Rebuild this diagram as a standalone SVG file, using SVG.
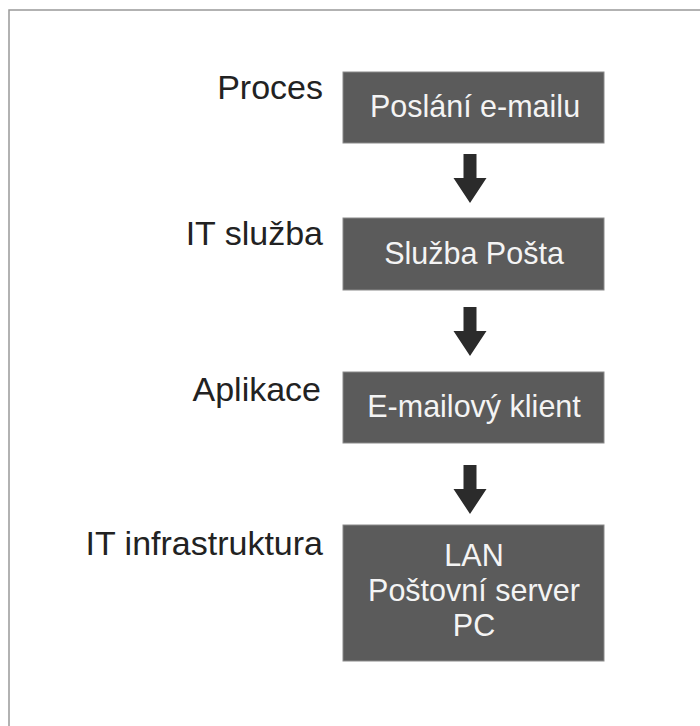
<svg xmlns="http://www.w3.org/2000/svg" width="700" height="726" viewBox="0 0 700 726">
  <style>
    .frame { fill: none; stroke: #999999; stroke-width: 1.5; }
    .box { fill: #5b5b5b; stroke: #8a8a8a; stroke-width: 1; }
    .boxtext { font-family: "Liberation Sans", Arial, sans-serif; font-size: 30.5px; fill: #f4f4f4; text-anchor: middle; }
    .label { font-family: "Liberation Sans", Arial, sans-serif; font-size: 34px; fill: #222222; text-anchor: end; }
    .arrow { fill: #2b2b2b; }
  </style>
  <defs>
    <!-- down arrow: shaft then triangular head, tip at y=49 -->
    <path id="downArrow" d="M -6.5 0 H 6.5 V 24 H 16.5 L 0 49 L -16.5 24 H -6.5 Z"/>
  </defs>
  <rect width="700" height="726" fill="#ffffff"/>
  <!-- page frame (top and left edges) -->
  <path class="frame" d="M 9 726 V 10 H 700"/>

  <g id="layer-proces">
    <text class="label" x="323" y="99">Proces</text>
    <rect class="box" x="343" y="72" width="261" height="71"/>
    <text class="boxtext" x="475" y="117">Poslání e-mailu</text>
  </g>

  <g id="layer-it-sluzba">
    <text class="label" x="323" y="245">IT služba</text>
    <rect class="box" x="343" y="218" width="261" height="72"/>
    <text class="boxtext" x="474" y="264">Služba Pošta</text>
  </g>

  <g id="layer-aplikace">
    <text class="label" x="321" y="401">Aplikace</text>
    <rect class="box" x="343" y="372" width="261" height="71"/>
    <text class="boxtext" x="474" y="417">E-mailový klient</text>
  </g>

  <g id="layer-infrastruktura">
    <text class="label" x="323" y="555">IT infrastruktura</text>
    <rect class="box" x="343" y="525" width="261" height="136"/>
    <text class="boxtext" x="474" y="566">LAN</text>
    <text class="boxtext" x="474" y="601">Poštovní server</text>
    <text class="boxtext" x="474" y="636">PC</text>
  </g>

  <g id="connectors" class="arrow">
    <use href="#downArrow" x="470" y="154"/>
    <use href="#downArrow" x="470" y="307"/>
    <use href="#downArrow" x="470" y="465"/>
  </g>
</svg>
